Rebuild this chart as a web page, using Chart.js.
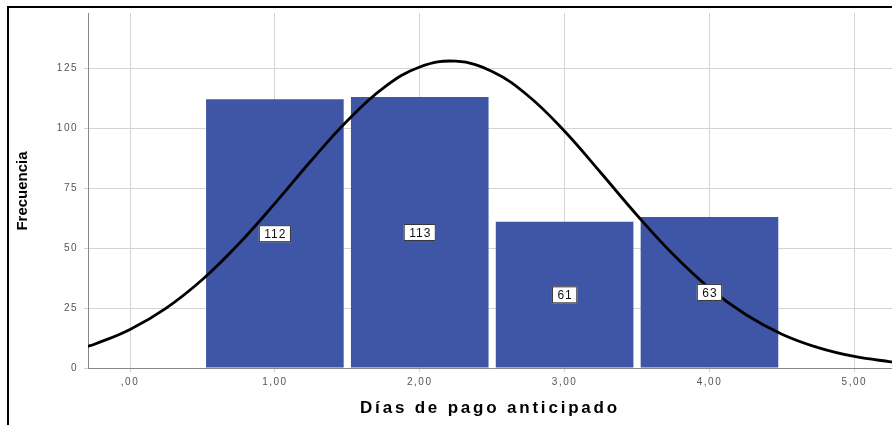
<!DOCTYPE html>
<html>
<head>
<meta charset="utf-8">
<script src="https://cdn.jsdelivr.net/npm/chart.js@4.4.1/dist/chart.umd.min.js"></script>
<style>
  html, body { margin: 0; padding: 0; background: #fff; }
  #wrap { position: relative; width: 892px; height: 425px; }
  #frame { position: absolute; left: 7px; top: 6px; right: 0; bottom: 0;
           border-top: 2px solid #000; border-left: 2px solid #000; pointer-events: none; }
</style>
</head>
<body>
<div id="wrap">
  <canvas id="mycanvas1" width="892" height="425"></canvas>
  <div id="frame"></div>
</div>
<script>
// histogram
var dias = [1, 2, 3, 4];
var frecuencia = [112, 113, 61, 63];
// normal curve
var curvaX = [-0.3, -0.25, 0, 0.25, 0.5, 0.75, 1, 1.25, 1.5, 1.75, 2, 2.25, 2.5, 2.75, 3, 3.25, 3.5, 3.75, 4, 4.25, 4.5, 4.75, 5, 5.25, 5.3];
var curvaY = [8.9, 9.8, 16.1, 25.0, 36.9, 51.7, 68.6, 86.4, 103.1, 116.8, 125.5, 127.9, 123.6, 113.4, 98.7, 81.4, 63.7, 47.3, 33.3, 22.3, 14.1, 8.5, 4.8, 2.6, 2.3];
var yTicks = [0, 25, 50, 75, 100, 125];
var xTicks = [0, 1, 2, 3, 4, 5];

var barras = [];
for (var i = 0; i < dias.length; i++) barras.push({x: dias[i], y: frecuencia[i]});
var curva = [];
for (var j = 0; j < curvaX.length; j++) curva.push({x: curvaX[j], y: curvaY[j]});

var spacing = {
  id: 'spacing',
  beforeDraw: function(chart) { chart.ctx.save(); chart.ctx.letterSpacing = '1.5px'; },
  afterDraw: function(chart) { chart.ctx.restore(); }
};

var etiquetas = {
  id: 'etiquetas',
  afterDatasetsDraw: function(chart) {
    var ctx = chart.ctx, xs = chart.scales.x, ys = chart.scales.y;
    ctx.save();
    ctx.letterSpacing = '1px';
    ctx.font = '12px "Liberation Sans", Arial, sans-serif';
    ctx.textAlign = 'center';
    ctx.textBaseline = 'middle';
    for (var i = 0; i < dias.length; i++) {
      var px = xs.getPixelForValue(dias[i]);
      var py = ys.getPixelForValue(frecuencia[i] / 2);
      var txt = String(frecuencia[i]);
      var w = ctx.measureText(txt).width + 10;
      ctx.fillStyle = '#fff';
      ctx.fillRect(px - w / 2, py - 8.5, w, 17);
      ctx.strokeStyle = '#333';
      ctx.lineWidth = 1;
      ctx.strokeRect(px - w / 2 + 0.5, py - 8, w - 1, 16);
      ctx.fillStyle = '#111';
      ctx.fillText(txt, px + 0.5, py + 1);
    }
    ctx.restore();
  },
  afterDraw: function(chart) {
    var ctx = chart.ctx;
    ctx.save();
    ctx.fillStyle = '#000';
    ctx.textAlign = 'center';
    ctx.textBaseline = 'middle';
    ctx.letterSpacing = '2.8px';
    ctx.font = 'bold 17px "Liberation Sans", Arial, sans-serif';
    ctx.fillText('Días de pago anticipado', 490, 408);
    ctx.letterSpacing = '0px';
    ctx.translate(23, 191);
    ctx.rotate(-Math.PI / 2);
    ctx.font = 'bold 15px "Liberation Sans Narrow", "Liberation Sans", Arial, sans-serif';
    ctx.fillText('Frecuencia', 0, 0);
    ctx.restore();
  }
};

var ctx = document.getElementById('mycanvas1');
new Chart(ctx, {
  type: 'bar',
  data: {
    datasets: [
      {
        type: 'line',
        data: curva,
        borderColor: '#000',
        borderWidth: 2.8,
        pointRadius: 0,
        tension: 0.4,
        fill: false,
        order: 0
      },
      {
        type: 'bar',
        data: barras,
        backgroundColor: '#3f56a6',
        borderWidth: 0,
        barPercentage: 0.95,
        categoryPercentage: 1,
        order: 1
      }
    ]
  },
  options: {
    responsive: false,
    animation: false,
    events: [],
    layout: { padding: { top: 13, right: 0, left: 0, bottom: 0 } },
    plugins: { legend: { display: false }, tooltip: { enabled: false } },
    scales: {
      x: {
        type: 'linear',
        offset: false,
        min: -0.29,
        max: 5.26,
        afterBuildTicks: function(s) { s.ticks = xTicks.map(function(v) { return {value: v}; }); },
        afterFit: function(s) { s.height = 57; },
        ticks: {
          color: '#555',
          font: { size: 10, family: '"Liberation Sans", Arial, sans-serif' },
          padding: 4,
          maxRotation: 0,
          callback: function(v) { return v === 0 ? ',00' : v + ',00'; }
        },
        grid: { offset: false, color: '#d4d4d4', lineWidth: 1, tickLength: 4 },
        border: { color: '#888', width: 1 }
      },
      y: {
        min: 0,
        max: 148,
        afterBuildTicks: function(s) { s.ticks = yTicks.map(function(v) { return {value: v}; }); },
        afterFit: function(s) { s.width = 88; },
        ticks: {
          color: '#555',
          font: { size: 10, family: '"Liberation Sans", Arial, sans-serif' },
          padding: 6
        },
        grid: { color: '#d4d4d4', lineWidth: 1, tickLength: 4 },
        border: { color: '#888', width: 1 }
      }
    }
  },
  plugins: [spacing, etiquetas]
});
</script>
</body>
</html>
